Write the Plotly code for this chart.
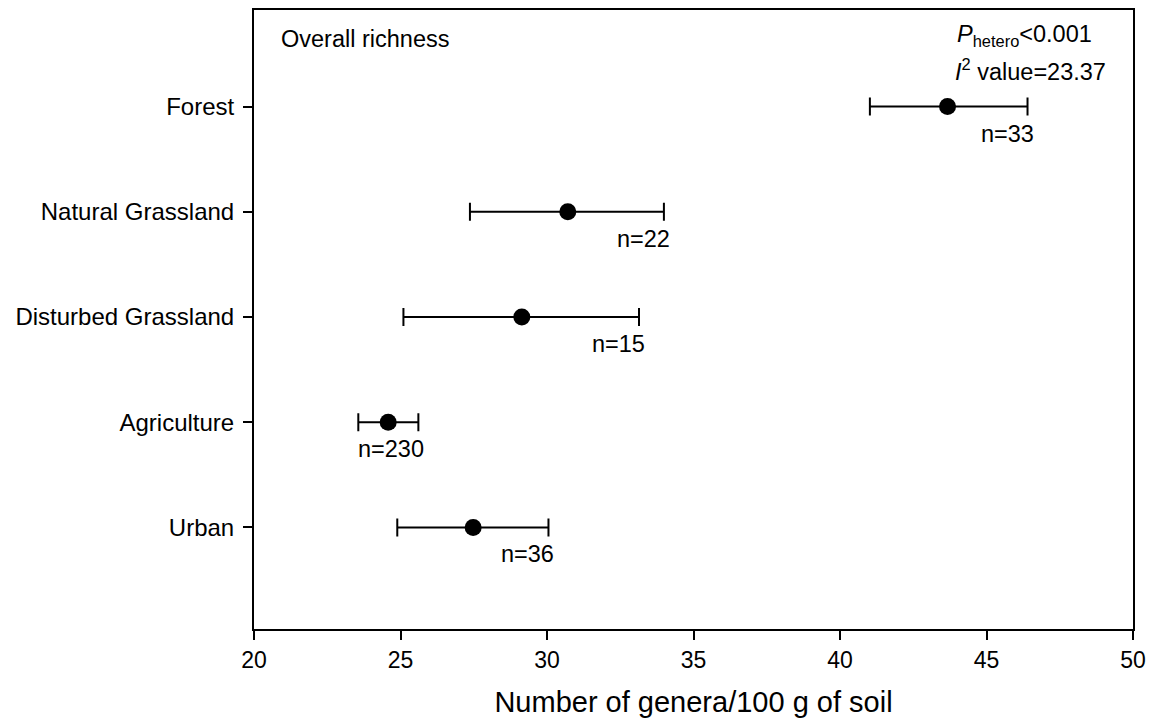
import plotly.graph_objects as go

# Land-use categories, plotted bottom to top
categories = ["Urban", "Agriculture", "Disturbed Grassland", "Natural Grassland", "Forest"]
positions = [1, 2, 3, 4, 5]
# Mean richness and 95% CI bounds (genera / 100 g soil)
means = [27.48, 24.58, 29.14, 30.71, 43.67]
lower = [24.89, 23.56, 25.10, 27.37, 41.02]
upper = [30.05, 25.61, 33.14, 33.99, 46.40]
sample_sizes = ["n=36", "n=230", "n=15", "n=22", "n=33"]
x_ticks = [20, 25, 30, 35, 40, 45, 50]

err_plus = [u - m for u, m in zip(upper, means)]
err_minus = [m - l for m, l in zip(means, lower)]

font_family = "Liberation Sans, Arial, sans-serif"
text_font = dict(size=23.5, color="black", family=font_family)

fig = go.Figure()
fig.add_trace(go.Scatter(
    x=means,
    y=positions,
    mode="markers",
    marker=dict(color="black", size=17, symbol="circle"),
    error_x=dict(type="data", symmetric=False, array=err_plus, arrayminus=err_minus,
                 color="black", thickness=2, width=9),
    showlegend=False,
))

# Sample-size labels beneath the upper end of each interval
for u, p, n in zip(upper, positions, sample_sizes):
    fig.add_annotation(x=u, y=p, text=n, showarrow=False, xanchor="right", yanchor="middle",
                       xshift=8, yshift=-27, font=text_font)

fig.add_annotation(xref="paper", yref="paper", x=0.0284, y=0.953, text="Overall richness",
                   showarrow=False, xanchor="left", yanchor="middle", font=text_font)
fig.add_annotation(xref="paper", yref="paper", x=0.7975, y=0.958,
                   text="<i>P</i><sub>hetero</sub><0.001",
                   showarrow=False, xanchor="left", yanchor="middle", font=text_font)
fig.add_annotation(xref="paper", yref="paper", x=0.795, y=0.903,
                   text="<i>I</i><sup>2</sup> value=23.37",
                   showarrow=False, xanchor="left", yanchor="middle", font=text_font)

fig.update_layout(
    width=1156, height=721,
    margin=dict(l=254, r=23, t=8, b=91),
    paper_bgcolor="white", plot_bgcolor="white",
    font=dict(family=font_family, color="black"),
    xaxis=dict(range=[20, 50], tickvals=x_ticks, ticks="outside", ticklen=9, tickwidth=2,
               tickcolor="black", showline=True, linecolor="black", linewidth=2, mirror=True,
               showgrid=False, zeroline=False, tickfont=dict(size=23),
               title=dict(text="Number of genera/100 g of soil", font=dict(size=29), standoff=20)),
    yaxis=dict(range=[0.035, 5.917], tickvals=positions, ticktext=categories, ticks="outside",
               ticklen=9, tickwidth=2, tickcolor="black", showline=True, linecolor="black",
               linewidth=2, mirror=True, showgrid=False, zeroline=False, tickfont=dict(size=24),
               ticklabelstandoff=4),
)

fig.write_html("out.html")
